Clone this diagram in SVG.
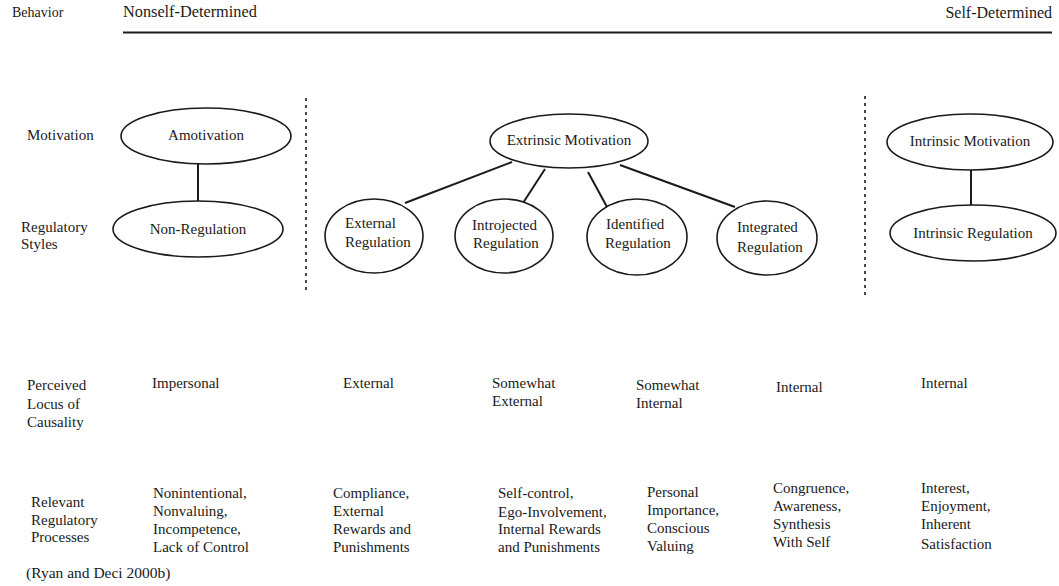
<svg xmlns="http://www.w3.org/2000/svg" width="1059" height="586" viewBox="0 0 1059 586" font-family="Liberation Serif, DejaVu Serif, serif">
<style>
text{font-family:'Liberation Serif','DejaVu Serif',serif;font-size:15px;fill:#1a1a1a}
.n ellipse{fill:#fff;stroke:#1a1a1a;stroke-width:1.6}
.c line{stroke:#1a1a1a;stroke-width:2}
.d{stroke:#1a1a1a;stroke-width:1.6;stroke-dasharray:3,4}
.m{text-anchor:middle}
</style>
<rect width="1059" height="586" fill="#fff"/>
<g id="header">
<text x="12" y="17" style="font-size:14px">Behavior</text>
<text x="123" y="17" style="font-size:16.3px">Nonself-Determined</text>
<text x="1052" y="18" text-anchor="end" style="font-size:16px">Self-Determined</text>
<line x1="123" y1="32.5" x2="1052" y2="32.5" stroke="#1a1a1a" stroke-width="1.8"/>
</g>
<g id="dividers">
<line class="d" x1="306" y1="98" x2="306" y2="293"/>
<line class="d" x1="865" y1="96" x2="865" y2="297"/>
</g>
<g id="row-labels">
<text x="27" y="140">Motivation</text>
<text x="21" y="232">Regulatory</text>
<text x="21" y="249">Styles</text>
<text x="27" y="390">Perceived</text>
<text x="27" y="409">Locus of</text>
<text x="27" y="427">Causality</text>
<text x="31" y="507">Relevant</text>
<text x="31" y="525">Regulatory</text>
<text x="31" y="542">Processes</text>
</g>
<g id="connectors" class="c">
<line x1="198" y1="164" x2="198" y2="202"/>
<line x1="512" y1="162" x2="405" y2="203"/>
<line x1="545" y1="169" x2="523" y2="203"/>
<line x1="588" y1="172" x2="607" y2="207"/>
<line x1="620" y1="165" x2="735" y2="207"/>
<line x1="971" y1="170" x2="971" y2="205"/>
</g>
<g id="amotivation" class="n"><ellipse cx="206" cy="136" rx="85" ry="28"/><text x="206" y="140" class="m">Amotivation</text></g>
<g id="non-regulation" class="n"><ellipse cx="198" cy="229" rx="85" ry="28"/><text x="198" y="234" class="m">Non-Regulation</text></g>
<g id="extrinsic-motivation" class="n"><ellipse cx="569" cy="141" rx="79" ry="27"/><text x="569" y="145" class="m">Extrinsic Motivation</text></g>
<g id="external-regulation" class="n"><ellipse cx="374" cy="236" rx="49" ry="37"/><text x="345" y="228">External</text><text x="345" y="247">Regulation</text></g>
<g id="introjected-regulation" class="n"><ellipse cx="504" cy="236" rx="49" ry="37"/><text x="472" y="230">Introjected</text><text x="473" y="248">Regulation</text></g>
<g id="identified-regulation" class="n"><ellipse cx="637" cy="237" rx="50" ry="38"/><text x="606" y="229">Identified</text><text x="605" y="248">Regulation</text></g>
<g id="integrated-regulation" class="n"><ellipse cx="767" cy="238" rx="50" ry="37"/><text x="737" y="232">Integrated</text><text x="737" y="252">Regulation</text></g>
<g id="intrinsic-motivation" class="n"><ellipse cx="970" cy="142" rx="83" ry="28"/><text x="970" y="146" class="m">Intrinsic Motivation</text></g>
<g id="intrinsic-regulation" class="n"><ellipse cx="973" cy="233" rx="83" ry="28"/><text x="973" y="238" class="m">Intrinsic Regulation</text></g>
<g id="locus">
<text x="152" y="388">Impersonal</text>
<text x="343" y="388">External</text>
<text x="492" y="388">Somewhat</text>
<text x="492" y="406">External</text>
<text x="636" y="390">Somewhat</text>
<text x="636" y="408">Internal</text>
<text x="776" y="392">Internal</text>
<text x="921" y="388">Internal</text>
</g>
<g id="processes">
<text x="153" y="498">Nonintentional,</text>
<text x="153" y="516">Nonvaluing,</text>
<text x="153" y="534">Incompetence,</text>
<text x="153" y="552">Lack of Control</text>
<text x="333" y="498">Compliance,</text>
<text x="333" y="516">External</text>
<text x="333" y="534">Rewards and</text>
<text x="333" y="552">Punishments</text>
<text x="498" y="498">Self-control,</text>
<text x="498" y="517">Ego-Involvement,</text>
<text x="498" y="534">Internal Rewards</text>
<text x="498" y="552">and Punishments</text>
<text x="647" y="497">Personal</text>
<text x="647" y="515">Importance,</text>
<text x="647" y="533">Conscious</text>
<text x="647" y="551">Valuing</text>
<text x="773" y="493">Congruence,</text>
<text x="773" y="511">Awareness,</text>
<text x="773" y="529">Synthesis</text>
<text x="773" y="547">With Self</text>
<text x="921" y="493">Interest,</text>
<text x="921" y="511">Enjoyment,</text>
<text x="921" y="529">Inherent</text>
<text x="921" y="549">Satisfaction</text>
</g>
<text x="26" y="578" style="font-size:15.5px">(Ryan and Deci 2000b)</text>
</svg>
